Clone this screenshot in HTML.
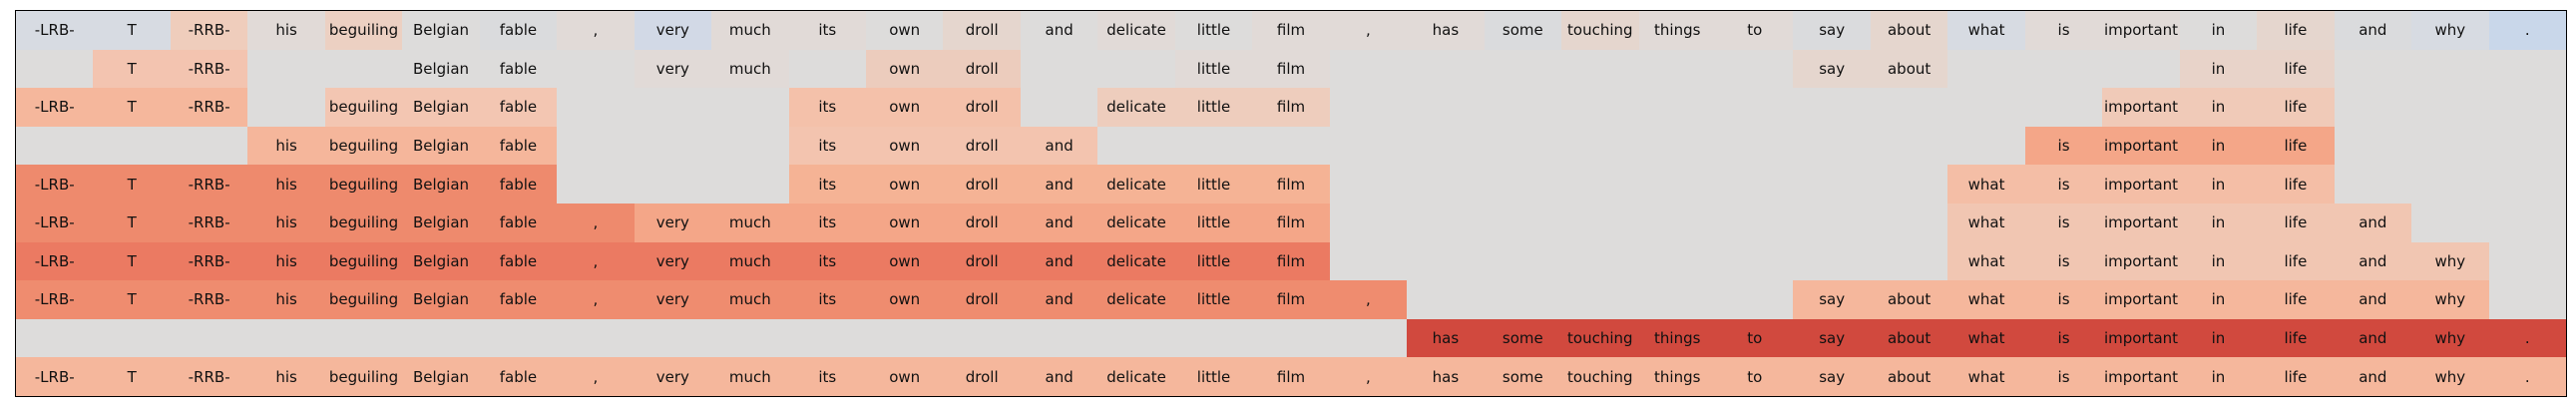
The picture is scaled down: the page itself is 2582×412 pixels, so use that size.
<!DOCTYPE html>
<html><head><meta charset="utf-8"><style>
html,body{margin:0;padding:0;background:#fff;width:2582px;height:412px;overflow:hidden}
#g{position:absolute;left:15px;top:10px;width:2556px;height:386px;border:1px solid #000;display:grid;grid-template-columns:repeat(33,1fr);grid-template-rows:repeat(10,1fr);background:#dddcdb}
#g i{font-style:normal;display:flex;align-items:center;justify-content:center;font-family:"DejaVu Sans","Liberation Sans",sans-serif;font-size:15px;color:#111;background:#dddcdb;white-space:nowrap;overflow:visible}
.b1{background:#d7dbe2!important}.b2{background:#d2d9e6!important}.b3{background:#c9d7ea!important}
.w1{background:#e1dad7!important}.w2{background:#e5d6ce!important}.bg{background:#dadbdd!important}
.a{background:#efcdbc!important}.a2{background:#ecd0c2!important}
.c{background:#f3c4b0!important}.c1{background:#ecccbd!important}.c2{background:#e8d3c9!important}
.d{background:#f5b79c!important}.d1{background:#f3c6b2!important}.d2{background:#f4c1aa!important}.d3{background:#eecdbd!important}.d4{background:#f0cab8!important}
.e{background:#f5b69b!important}.e1{background:#f3c4af!important}.e2{background:#f4a688!important}
.f{background:#ee8a6d!important}.f1{background:#f5b395!important}.f2{background:#f4bea6!important}
.h{background:#f1c6b2!important}.k{background:#eb7a62!important}.m{background:#ef8c6f!important}
.r{background:#d1493e!important}
</style></head><body><div id="g">
<i class="b1">-LRB-</i><i class="b1">T</i><i class="a">-RRB-</i><i class="w1">his</i><i class="a2">beguiling</i><i>Belgian</i><i class="bg">fable</i><i class="w1">,</i><i class="b2">very</i><i class="w1">much</i><i class="w1">its</i><i>own</i><i class="w2">droll</i><i>and</i><i class="w1">delicate</i><i>little</i><i class="w1">film</i><i class="w1">,</i><i class="w1">has</i><i class="bg">some</i><i class="w2">touching</i><i class="w1">things</i><i class="w1">to</i><i class="bg">say</i><i class="w2">about</i><i class="b1">what</i><i class="w1">is</i><i class="w1">important</i><i>in</i><i class="w2">life</i><i class="bg">and</i><i class="b1">why</i><i class="b3">.</i>
<i></i><i class="c">T</i><i class="c">-RRB-</i><i></i><i></i><i>Belgian</i><i>fable</i><i></i><i class="w1">very</i><i class="w1">much</i><i></i><i class="c1">own</i><i class="c1">droll</i><i></i><i></i><i class="w1">little</i><i class="w1">film</i><i></i><i></i><i></i><i></i><i></i><i></i><i class="w2">say</i><i class="w2">about</i><i></i><i></i><i></i><i class="c2">in</i><i class="c2">life</i><i></i><i></i><i></i>
<i class="d">-LRB-</i><i class="d">T</i><i class="d">-RRB-</i><i></i><i class="d1">beguiling</i><i class="d1">Belgian</i><i class="d1">fable</i><i></i><i></i><i></i><i class="d2">its</i><i class="d2">own</i><i class="d2">droll</i><i></i><i class="d3">delicate</i><i class="d3">little</i><i class="d3">film</i><i></i><i></i><i></i><i></i><i></i><i></i><i></i><i></i><i></i><i></i><i class="d4">important</i><i class="d4">in</i><i class="d4">life</i><i></i><i></i><i></i>
<i></i><i></i><i></i><i class="e">his</i><i class="e">beguiling</i><i class="e">Belgian</i><i class="e">fable</i><i></i><i></i><i></i><i class="e1">its</i><i class="e1">own</i><i class="e1">droll</i><i class="e1">and</i><i></i><i></i><i></i><i></i><i></i><i></i><i></i><i></i><i></i><i></i><i></i><i></i><i class="e2">is</i><i class="e2">important</i><i class="e2">in</i><i class="e2">life</i><i></i><i></i><i></i>
<i class="f">-LRB-</i><i class="f">T</i><i class="f">-RRB-</i><i class="f">his</i><i class="f">beguiling</i><i class="f">Belgian</i><i class="f">fable</i><i></i><i></i><i></i><i class="f1">its</i><i class="f1">own</i><i class="f1">droll</i><i class="f1">and</i><i class="f1">delicate</i><i class="f1">little</i><i class="f1">film</i><i></i><i></i><i></i><i></i><i></i><i></i><i></i><i></i><i class="f2">what</i><i class="f2">is</i><i class="f2">important</i><i class="f2">in</i><i class="f2">life</i><i></i><i></i><i></i>
<i class="f">-LRB-</i><i class="f">T</i><i class="f">-RRB-</i><i class="f">his</i><i class="f">beguiling</i><i class="f">Belgian</i><i class="f">fable</i><i class="f">,</i><i class="e2">very</i><i class="e2">much</i><i class="e2">its</i><i class="e2">own</i><i class="e2">droll</i><i class="e2">and</i><i class="e2">delicate</i><i class="e2">little</i><i class="e2">film</i><i></i><i></i><i></i><i></i><i></i><i></i><i></i><i></i><i class="h">what</i><i class="h">is</i><i class="h">important</i><i class="h">in</i><i class="h">life</i><i class="h">and</i><i></i><i></i>
<i class="k">-LRB-</i><i class="k">T</i><i class="k">-RRB-</i><i class="k">his</i><i class="k">beguiling</i><i class="k">Belgian</i><i class="k">fable</i><i class="k">,</i><i class="k">very</i><i class="k">much</i><i class="k">its</i><i class="k">own</i><i class="k">droll</i><i class="k">and</i><i class="k">delicate</i><i class="k">little</i><i class="k">film</i><i></i><i></i><i></i><i></i><i></i><i></i><i></i><i></i><i class="h">what</i><i class="h">is</i><i class="h">important</i><i class="h">in</i><i class="h">life</i><i class="h">and</i><i class="h">why</i><i></i>
<i class="m">-LRB-</i><i class="m">T</i><i class="m">-RRB-</i><i class="m">his</i><i class="m">beguiling</i><i class="m">Belgian</i><i class="m">fable</i><i class="m">,</i><i class="m">very</i><i class="m">much</i><i class="m">its</i><i class="m">own</i><i class="m">droll</i><i class="m">and</i><i class="m">delicate</i><i class="m">little</i><i class="m">film</i><i class="m">,</i><i></i><i></i><i></i><i></i><i></i><i class="d">say</i><i class="d">about</i><i class="d">what</i><i class="d">is</i><i class="d">important</i><i class="d">in</i><i class="d">life</i><i class="d">and</i><i class="d">why</i><i></i>
<i></i><i></i><i></i><i></i><i></i><i></i><i></i><i></i><i></i><i></i><i></i><i></i><i></i><i></i><i></i><i></i><i></i><i></i><i class="r">has</i><i class="r">some</i><i class="r">touching</i><i class="r">things</i><i class="r">to</i><i class="r">say</i><i class="r">about</i><i class="r">what</i><i class="r">is</i><i class="r">important</i><i class="r">in</i><i class="r">life</i><i class="r">and</i><i class="r">why</i><i class="r">.</i>
<i class="d">-LRB-</i><i class="d">T</i><i class="d">-RRB-</i><i class="d">his</i><i class="d">beguiling</i><i class="d">Belgian</i><i class="d">fable</i><i class="d">,</i><i class="d">very</i><i class="d">much</i><i class="d">its</i><i class="d">own</i><i class="d">droll</i><i class="d">and</i><i class="d">delicate</i><i class="d">little</i><i class="d">film</i><i class="d">,</i><i class="d">has</i><i class="d">some</i><i class="d">touching</i><i class="d">things</i><i class="d">to</i><i class="d">say</i><i class="d">about</i><i class="d">what</i><i class="d">is</i><i class="d">important</i><i class="d">in</i><i class="d">life</i><i class="d">and</i><i class="d">why</i><i class="d">.</i>
</div></body></html>
